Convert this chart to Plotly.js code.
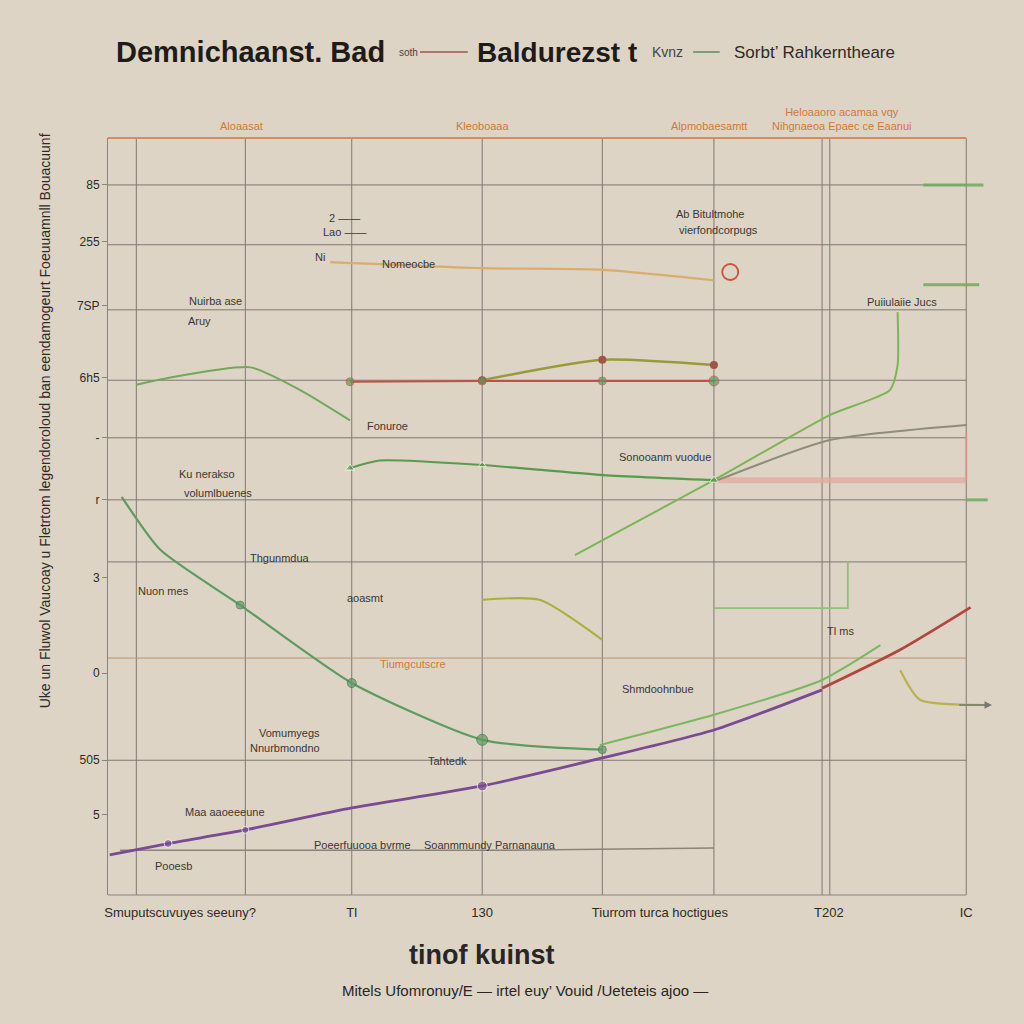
<!DOCTYPE html>
<html><head><meta charset="utf-8">
<script src="https://cdn.plot.ly/plotly-3.0.1.min.js"></script>
<style>html,body{margin:0;padding:0;background:#ddd4c5}</style>
</head><body><div id="chart" style="width:1024px;height:1024px"></div>
<script>
// ---- data (time index vs. value index) ----
const purpleX = [0.2, 7.0, 16.0, 28.4, 43.6, 57.6, 70.6, 83.2];
const purpleY = [5.3, 6.8, 8.6, 11.5, 14.4, 18.1, 21.8, 27.1];
const redRiseX = [83.2, 92.3, 100.5];
const redRiseY = [27.3, 32.4, 38.0];
const greenDescX = [1.6, 6.1, 15.4, 28.4, 43.6, 57.6];
const greenDescY = [52.6, 45.6, 38.3, 28.0, 20.5, 19.2];
const greenLongX = [54.4, 70.6, 84.1, 91.1, 92.0, 92.0];
const greenLongY = [44.9, 54.8, 63.4, 66.7, 70.0, 77.0];
const greenLowX = [57.3, 70.6, 83.2, 90.0];
const greenLowY = [19.8, 23.8, 28.4, 33.0];
const greenTopX = [3.3, 7.0, 16.6, 22.4, 28.2];
const greenTopY = [67.4, 68.3, 69.7, 66.7, 62.7];
const redFlatX = [28.2, 43.6, 57.6, 70.6];
const redFlatY = [67.8, 67.9, 67.9, 67.9];
const oliveArcX = [43.6, 57.6, 70.6];
const oliveArcY = [68.0, 70.7, 70.0];
const tanTopX = [25.9, 43.6, 57.3, 70.6];
const tanTopY = [83.6, 82.8, 82.6, 81.2];
const greenMidX = [28.2, 31.7, 43.6, 57.3, 70.6];
const greenMidY = [56.4, 57.4, 56.8, 55.5, 54.8];
const grayRiseX = [70.6, 84.1, 100.0];
const grayRiseY = [54.6, 60.1, 62.1];
const pinkFlatX = [70.6, 100.0];
const pinkFlatY = [54.8, 54.8];
const pinkRiseX = [100.0, 100.0];
const pinkRiseY = [54.8, 61.0];
const oliveDipX = [43.6, 50.3, 57.6];
const oliveDipY = [39.0, 39.0, 33.7];
const oliveRightX = [92.3, 94.6, 102.2];
const oliveRightY = [29.7, 25.8, 25.1];
const grayBottomX = [1.4, 45.0, 70.6];
const grayBottomY = [5.9, 5.9, 6.2];
const bracketX = [70.6, 86.2, 86.2];
const bracketY = [37.9, 37.9, 43.9];
const greenStubsX = [[95.0, 102.0], [95.0, 101.5], [100.0, 102.5]];
const greenStubsY = [[93.8, 93.8], [80.6, 80.6], [52.2, 52.2]];

const xTickVals = [8.4, 28.4, 43.6, 64.3, 84.0, 100.0];
const xTickText = ['Smuputscuvuyes seeuny?', 'Tl', '130', 'Tiurrom turca hoctigues', 'T202', 'IC'];
const xGrid = [3.3, 16.0, 28.4, 43.6, 57.6, 70.6, 83.2, 84.1, 100.0];
const yTickVals = [93.8, 86.3, 77.9, 68.3, 60.4, 52.2, 41.9, 29.3, 17.8, 10.6];
const yTickText = ['85', '255', '7SP', '6h5', '\u2010', 'r', '3', '0', '505', '5'];
const yGrid = [93.8, 85.9, 77.3, 68.0, 60.4, 52.2, 44.0, 31.3, 17.8];

const topLabels = ['Aloaasat', 'Kleoboaaa', 'Alpmobaesamtt', 'Heloaaoro acamaa vqy<br>Nihgnaeoa Epaec ce Eaanui'];
const topLabelX = [15.5, 43.6, 70.0, 85.5];

const noteText = ['2 \u2014\u2014', 'Lao \u2014\u2014', 'Ni', 'Nomeocbe', 'Ab Bitultmohe', 'vierfondcorpugs',
  'Nuirba ase', 'Aruy', 'Puiiulaiie Jucs', 'Ku nerakso', 'volumlbuenes', 'Sonooanm vuodue',
  'Fonuroe', 'Thgunmdua', 'Nuon mes', 'aoasmt', 'Vomumyegs', 'Nnurbmondno', 'Tahtedk',
  'Maa aaoeeeune', 'Poeerfuuooa bvrme', 'Soanmmundy Parnanauna', 'Pooesb', 'Shmdoohnbue', 'Tl ms'];
const noteX = [27.6, 27.6, 24.7, 35.0, 70.2, 71.1, 12.5, 10.7, 92.5, 11.5, 12.8, 64.9,
  32.6, 20.0, 6.5, 29.9, 21.2, 20.6, 39.6, 13.6, 29.7, 44.5, 7.6, 64.1, 85.3];
const noteY = [89.4, 87.6, 84.3, 83.4, 90.0, 87.9, 78.5, 75.8, 78.3, 55.6, 53.1, 57.9,
  61.9, 44.5, 40.2, 39.2, 21.4, 19.4, 17.7, 10.9, 6.6, 6.6, 3.8, 27.2, 34.9];

const FN = 'Liberation Sans Narrow, Liberation Sans';
const traces = [];
function line(x, y, color, width, extra) {
  traces.push(Object.assign({type: 'scatter', mode: 'lines', x: x, y: y,
    line: {color: color, width: width, shape: 'spline', smoothing: 0.6},
    hoverinfo: 'skip', showlegend: false}, extra || {}));
}
line(grayBottomX, grayBottomY, '#8d8279', 1.5);
line(pinkFlatX, pinkFlatY, '#e4a69c', 6, {opacity: 0.7});
line(pinkRiseX, pinkRiseY, '#e0958a', 2, {opacity: 0.8});
line(grayRiseX, grayRiseY, '#8e8d7c', 2);
line(bracketX, bracketY, '#8fc07a', 1.8, {line: {color: '#8fc07a', width: 1.8}});
line(greenDescX, greenDescY, '#5e9b62', 2.2, {mode: 'lines+markers', marker: {size: [0, 0, 8, 9, 11, 8], color: '#5e9b62', line: {color: '#3e6e52', width: 1}}});
line(greenLongX, greenLongY, '#7bb554', 2);
line(greenLowX, greenLowY, '#79b861', 2);
line(greenTopX, greenTopY, '#72a85c', 2);
line(tanTopX, tanTopY, '#d9ac70', 2.2);
line(greenMidX, greenMidY, '#5b9a4c', 2.2, {mode: 'lines+markers', marker: {size: [8, 0, 7, 0, 8], color: '#5b9a4c', symbol: 'triangle-up'}});
line(oliveArcX, oliveArcY, '#9a9a3a', 2.5, {mode: 'lines+markers', marker: {size: 8, color: '#a0544a'}});
line(redFlatX, redFlatY, '#c0504a', 2, {mode: 'lines+markers', marker: {size: [8, 8, 8, 10], color: '#5e9a5a'}});
line(oliveDipX, oliveDipY, '#a8b040', 2.2);
line(oliveRightX, oliveRightY, '#b9b24c', 2.2);
line(purpleX, purpleY, '#7a4b92', 2.8, {mode: 'lines+markers', marker: {size: [0, 8, 7, 0, 10, 0, 0, 0], color: '#7a4b92'}});
line(redRiseX, redRiseY, '#b5453f', 2.8);
for (let i = 0; i < greenStubsX.length; i++) line(greenStubsX[i], greenStubsY[i], '#6bac58', 3, {opacity: 0.85});
traces.push({type: 'scatter', mode: 'markers', x: [72.5], y: [82.3], marker: {size: 16, color: 'rgba(0,0,0,0)', line: {color: '#d0503a', width: 1.8}}, hoverinfo: 'skip', showlegend: false});

const shapes = [];
xGrid.forEach(v => shapes.push({type: 'line', xref: 'x', yref: 'paper', x0: v, x1: v, y0: 0, y1: 1, line: {color: '#7e7974', width: 1}, layer: 'below'}));
yGrid.forEach(v => shapes.push({type: 'line', xref: 'x', yref: 'y', x0: 0, x1: 100, y0: v, y1: v, line: {color: v === 31.3 ? '#c4906c' : '#7e7974', width: 1}, layer: 'below'}));
shapes.push({type: 'line', xref: 'x', yref: 'paper', x0: 0, x1: 100, y0: 1, y1: 1, line: {color: '#d98a5a', width: 1.8}});
shapes.push({type: 'line', xref: 'x', yref: 'paper', x0: 0, x1: 100, y0: 0, y1: 0, line: {color: '#8a847e', width: 1}});
// title legend swatches
shapes.push({type: 'line', xref: 'paper', yref: 'paper', x0: 0.353, x1: 0.407, y0: 1.1136, y1: 1.1136, line: {color: '#a9766a', width: 2}});
shapes.push({type: 'line', xref: 'paper', yref: 'paper', x0: 0.662, x1: 0.692, y0: 1.1136, y1: 1.1136, line: {color: '#7aa07a', width: 2}});

const anns = [];
topLabels.forEach((t, i) => anns.push({xref: 'x', yref: 'paper', x: topLabelX[i], y: 1.005, yanchor: 'bottom', text: t, showarrow: false, font: {family: FN, size: 11, color: '#d07a3a'}}));
noteText.forEach((t, i) => anns.push({xref: 'x', yref: 'y', x: noteX[i], y: noteY[i], text: t, showarrow: false, font: {family: FN, size: 11, color: '#3b3632'}}));
anns.push({xref: 'x', yref: 'y', x: 35.5, y: 30.5, text: 'Tiumgcutscre', showarrow: false, font: {family: FN, size: 11, color: '#d07a3a'}});
anns.push({xref: 'paper', yref: 'paper', x: 0.3156, y: 1.1136, xanchor: 'right', yanchor: 'middle', text: 'Demnichaanst. Bad', showarrow: false, font: {family: 'Liberation Sans', size: 29, color: '#1e1b19', weight: 700}});
anns.push({xref: 'paper', yref: 'paper', x: 0.353, y: 1.1136, xanchor: 'right', yanchor: 'middle', text: 'soth', showarrow: false, font: {family: FN, size: 10, color: '#444'}});
anns.push({xref: 'paper', yref: 'paper', x: 0.415, y: 1.1136, xanchor: 'left', yanchor: 'middle', text: 'Baldurezst t', showarrow: false, font: {family: 'Liberation Sans', size: 28, color: '#1e1b19', weight: 700}});
anns.push({xref: 'paper', yref: 'paper', x: 0.613, y: 1.1136, xanchor: 'left', yanchor: 'middle', text: 'Kvnz', showarrow: false, font: {family: FN, size: 14, color: '#444'}});
anns.push({xref: 'paper', yref: 'paper', x: 0.706, y: 1.1136, xanchor: 'left', yanchor: 'middle', text: 'Sorbt\u2019 Rahkerntheare', showarrow: false, font: {family: FN, size: 17, color: '#2e2a27'}});
anns.push({xref: 'paper', yref: 'paper', x: 0.423, y: -0.0793, yanchor: 'middle', text: 'tinof kuinst', showarrow: false, font: {family: 'Liberation Sans', size: 27, color: '#2a2522', weight: 700}});
anns.push({xref: 'paper', yref: 'paper', x: 0.472, y: -0.1255, yanchor: 'middle', text: 'Mitels Ufomronuy/E \u2014 irtel euy\u2019 Vouid /Ueteteis ajoo \u2014', showarrow: false, font: {family: FN, size: 15, color: '#2a2522'}});
anns.push({xref: 'paper', yref: 'paper', x: -0.0713, y: 0.627, xanchor: 'center', yanchor: 'middle', textangle: -90, text: 'Uke un Fluwol Vaucoay u Fletrtom legendoroloud ban eendamogeurt Foeuuamnll Bouacuunf', showarrow: false, font: {family: FN, size: 14, color: '#2e2a27'}});
anns.push({xref: 'x', yref: 'y', ax: 99, ay: 25.1, axref: 'x', ayref: 'y', x: 103, y: 25.1, text: '', showarrow: true, arrowhead: 2, arrowcolor: '#777', arrowwidth: 1.5});

const layout = {
  width: 1024, height: 1024,
  paper_bgcolor: '#ddd4c5', plot_bgcolor: '#ddd4c5',
  margin: {l: 108, r: 32, t: 138, b: 129},
  showlegend: false,
  xaxis: {range: [0, 103], tickvals: xTickVals, ticktext: xTickText, showgrid: false, zeroline: false,
    showline: false, ticks: '', ticklen: 0, ticklabelstandoff: 8,
    tickfont: {family: FN, size: 13, color: '#2e2a27'}},
  yaxis: {range: [0, 100], tickvals: yTickVals, ticktext: yTickText, showgrid: false, zeroline: false,
    showline: true, linecolor: '#8a847e', ticks: 'outside', ticklen: 5, tickcolor: '#8a847e',
    tickfont: {family: FN, size: 12, color: '#2e2a27'}},
  shapes: shapes, annotations: anns
};
Plotly.newPlot('chart', traces, layout, {displayModeBar: false, staticPlot: true});
</script></body></html>
